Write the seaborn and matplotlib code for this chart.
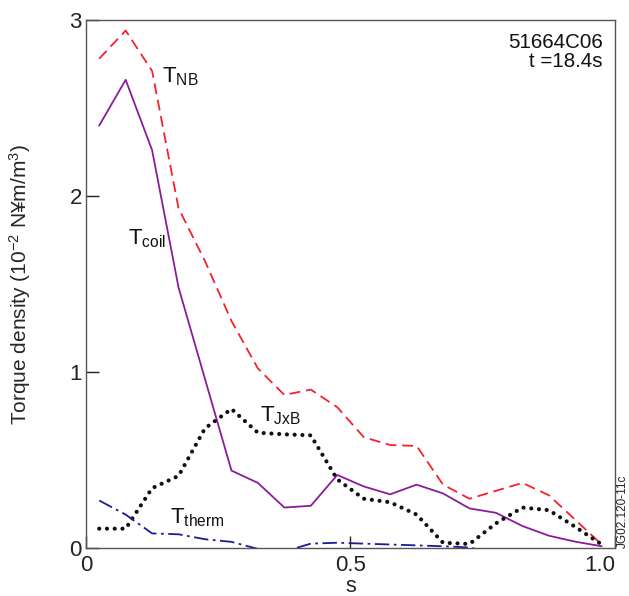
import numpy as np
import pandas as pd
import matplotlib
matplotlib.use("Agg")
import matplotlib.pyplot as plt
import seaborn as sns

# data: radial coordinate s, torque densities (1e-2 N m/m^3)
s = [0.025, 0.075, 0.125, 0.175, 0.225, 0.275, 0.325, 0.375, 0.425, 0.475,
     0.525, 0.575, 0.625, 0.675, 0.725, 0.775, 0.825, 0.875, 0.925, 0.975]
t_nb = [2.78, 2.94, 2.71, 1.93, 1.63, 1.29, 1.02, 0.87, 0.90, 0.80,
        0.63, 0.585, 0.58, 0.36, 0.28, 0.325, 0.37, 0.30, 0.16, 0.02]
t_coil = [2.40, 2.66, 2.26, 1.48, 0.96, 0.44, 0.37, 0.23, 0.24, 0.415,
          0.35, 0.305, 0.36, 0.31, 0.225, 0.20, 0.125, 0.07, 0.036, 0.01]
t_jxb = [0.11, 0.11, 0.34, 0.41, 0.68, 0.79, 0.655, 0.646, 0.64, 0.39,
         0.28, 0.26, 0.19, 0.03, 0.023, 0.14, 0.23, 0.215, 0.12, 0.02]
t_therm = [0.27, 0.19, 0.083, 0.078, 0.05, 0.035, -0.005, -0.02, 0.025, 0.03,
           0.025, 0.02, 0.015, 0.01, 0.003, -0.03, -0.05, -0.05, -0.04, -0.03]

series = {"NB": t_nb, "coil": t_coil, "JxB": t_jxb, "therm": t_therm}
df = pd.concat([pd.DataFrame({"s": s, "torque": v, "term": k}) for k, v in series.items()])

sns.set_style("white")
plt.rcParams["font.family"] = ["Liberation Sans", "DejaVu Sans"]
plt.rcParams["mathtext.fontset"] = "custom"
plt.rcParams["mathtext.rm"] = "Liberation Sans"
plt.rcParams["mathtext.it"] = "Liberation Sans"

styles = {
    "NB": dict(color="#f5222a", linestyle=(0, (6, 3.2)), linewidth=1.3),
    "coil": dict(color="#8b1c99", linestyle="-", linewidth=1.3),
    "JxB": dict(color="#111111", linestyle=(0, (0.01, 1.85)), linewidth=3.0,
                dash_capstyle="round"),
    "therm": dict(color="#1c1c96", linestyle=(0, (8, 2.5, 1.5, 2.5)), linewidth=1.3),
}

fig = plt.figure(figsize=(6.29, 5.96), dpi=100)
ax = fig.add_axes([0.1367, 0.0805, 0.841, 0.886])

for term, st in styles.items():
    sns.lineplot(data=df[df["term"] == term], x="s", y="torque", ax=ax,
                 estimator=None, sort=False, legend=False, **st)

ax.set_xlim(0, 1)
ax.set_ylim(0, 3)
ax.set_xticks([0, 0.5, 1.0])
ax.set_xticklabels(["0", "0.5", "1.0"])
ax.set_yticks([0, 1, 2, 3])
ax.set_yticklabels(["0", "1", "2", "3"])
ax.tick_params(direction="in", length=9, width=1, colors="#222222",
               labelsize=16, bottom=True, left=True, top=False, right=False)
ax.tick_params(axis="x", pad=5)
ax.tick_params(axis="y", pad=3)
ax.get_xticklabels()[-1].set_horizontalalignment("right")
for sp in ax.spines.values():
    sp.set_color("#555555")
    sp.set_linewidth(1.0)

ax.set_xlabel("s", fontsize=15.5, labelpad=0)
ax.set_ylabel("Torque density (10$^{-2}$ N¥m/m$^3$)", fontsize=15)
ax.yaxis.set_label_coords(-0.10, 0.5)

lab = dict(fontsize=16, va="center", ha="left", color="#111111")
ax.text(0.144, 2.68, r"T$_{\rm NB}$", **lab)
ax.text(0.079, 1.76, r"T$_{\rm coil}$", **lab)
ax.text(0.329, 0.75, r"T$_{\rm JxB}$", **lab)
ax.text(0.159, 0.17, r"T$_{\rm therm}$", **lab)

ax.text(0.977, 0.975, "51664C06\nt =18.4s", transform=ax.transAxes,
        ha="right", va="top", fontsize=14.8, linespacing=1.0, color="#111111")
fig.text(623 / 629, 48 / 596, "JG02.120-11c", rotation=90, ha="center",
         va="bottom", fontsize=8.5, color="#222222")

fig.savefig("out.png", dpi=100)
